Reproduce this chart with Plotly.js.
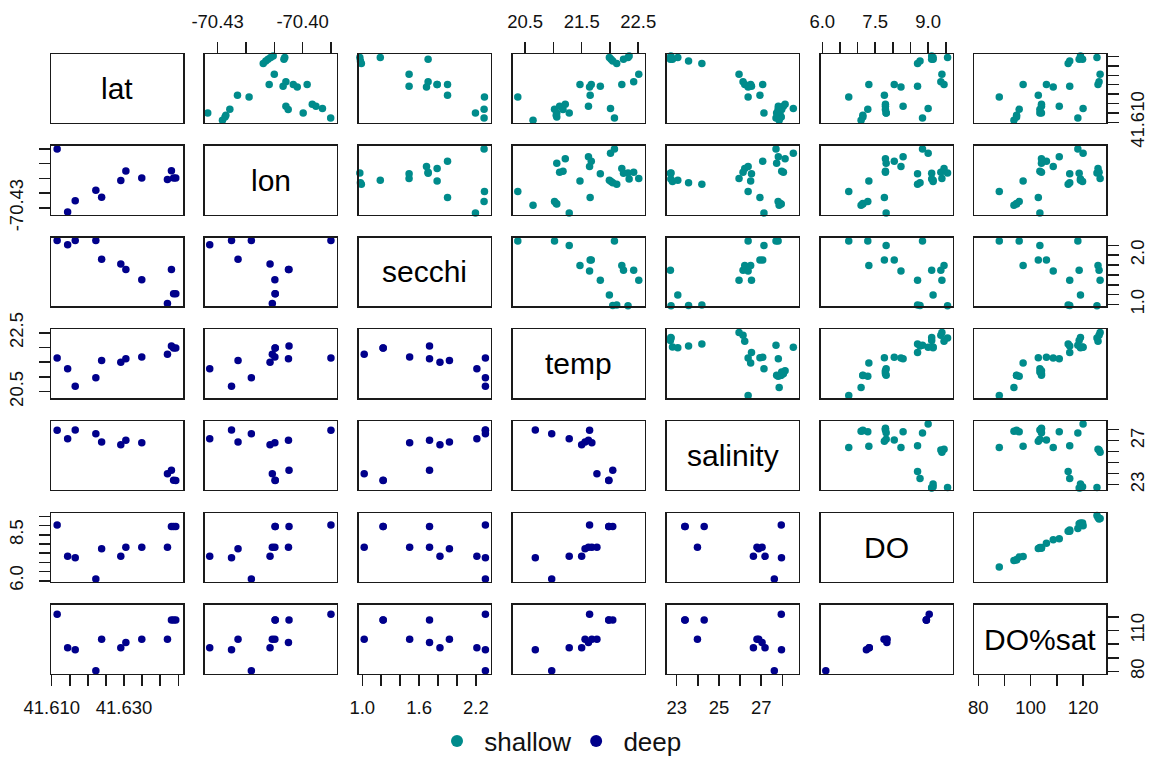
<!DOCTYPE html>
<html><head><meta charset="utf-8">
<script src="https://cdn.plot.ly/plotly-3.0.1.min.js"></script>
<style>html,body{margin:0;padding:0;background:#fff;overflow:hidden;}#chart{width:1154px;height:758px;}</style>
</head><body><div id="chart"></div>
<script>
const varNames = ['lat', 'lon', 'secchi', 'temp', 'salinity', 'DO', 'DO%sat'];

// shallow samples (upper panels)
const shallowLat = [41.6150, 41.6111, 41.6128, 41.6137, 41.6169, 41.6244, 41.6235, 41.6413, 41.6426, 41.6435, 41.6445, 41.6452, 41.6445, 41.6435, 41.6356, 41.6301, 41.6292, 41.6315, 41.6301, 41.6288, 41.6301, 41.6185, 41.6168, 41.6150, 41.6196, 41.6185, 41.6173, 41.6123];
const shallowLon = [-70.4335, -70.4283, -70.4274, -70.4271, -70.4257, -70.4230, -70.4189, -70.4139, -70.4130, -70.4122, -70.4113, -70.4104, -70.4063, -70.4066, -70.4100, -70.4118, -70.4069, -70.4059, -70.4033, -70.4019, -70.3984, -70.4059, -70.4051, -70.3998, -70.3966, -70.3953, -70.3930, -70.3901];
const shallowSecchi = [2.195, null, null, null, 2.286, 1.90, 2.29, 0.99, 0.98, null, 1.19, null, 0.974, 1.695, 1.494, 1.79, 1.494, 1.695, 1.79, 1.678, 1.90, null, null, null, null, null, null, 2.286];
const shallowTemp = [21.28, 20.64, 21.06, 21.05, 21.02, 21.65, 20.37, 22.12, 22.05, 22.02, 21.99, 22.34, 22.32, 22.24, 22.51, 21.47, 21.83, 22.42, 22.21, 21.64, 21.67, 21.11, 21.17, 21.06, 21.21, 21.62, 22.01, 22.08];
const shallowSalinity = [27.13, 27.85, 27.95, 27.90, 27.80, 26.94, 26.38, 24.19, 23.56, 22.80, 23.05, 22.72, 22.73, 22.70, 25.95, 26.50, 26.54, 26.14, 26.22, 26.38, 27.07, 28.05, 27.97, 27.73, 28.13, 27.81, 28.52, 27.70];
const shallowDO = [7.81, 7.10, 7.15, 7.15, 7.29, 7.76, 6.75, 8.70, 8.77, 9.14, 9.14, 9.10, 9.55, 9.10, 9.39, 7.32, 8.70, 9.36, 9.45, 8.23, 8.04, 7.79, 7.79, 7.81, 7.79, 8.29, 9.00, 8.84];
const shallowDOsat = [103.5, 93.6, 94.6, 94.6, 95.6, 102.9, 88.0, 114.3, 114.9, 119.8, 119.0, 119.0, 125.3, 118.5, 126.5, 97.1, 114.9, 126.1, 125.7, 108.6, 106.0, 104.1, 103.5, 104.1, 104.1, 110.9, 120.0, 118.0];

// deep samples (lower panels)
const deepLat = [41.6115, 41.6144, 41.6165, 41.6222, 41.6238, 41.6291, 41.6305, 41.6349, 41.6420, 41.6431, 41.6443, 41.6437];
const deepLon = [-70.3900, -70.4328, -70.4251, -70.4181, -70.4228, -70.4115, -70.4050, -70.4098, -70.4107, -70.4048, -70.4097, -70.4097];
const deepSecchi = [2.30, 2.21, 2.30, 2.30, 1.92, 1.82, 1.71, 1.50, 1.02, 1.71, 1.22, 1.22];
const deepTemp = [21.64, 21.28, 20.68, 20.97, 21.56, 21.50, 21.62, 21.68, 21.77, 22.05, 21.98, 21.98];
const deepSalinity = [27.95, 27.18, 27.96, 27.62, 26.88, 26.63, 27.04, 26.80, 23.98, 24.30, 23.38, 23.40];
const deepDO = [9.03, 7.33, 7.25, 6.10, 7.75, 7.33, 7.83, 7.83, 7.83, 8.95, 8.95, 8.95];
const deepDOsat = [121.9, 97.4, 96.0, 80.5, 103.7, 97.4, 101.3, 103.7, 103.7, 117.7, 117.7, 117.7];

// axis ranges and ticks per variable
const axisRanges = [[41.6098, 41.6463], [-70.4345, -70.3879], [0.963, 2.357], [20.28, 22.615], [22.52, 28.77], [5.95, 9.69], [78.5, 128.9]];
const tickValues = [
  [41.610, 41.615, 41.620, 41.625, 41.630, 41.635, 41.640, 41.645],
  [-70.43, -70.42, -70.41, -70.40, -70.39],
  [1.0, 1.2, 1.4, 1.6, 1.8, 2.0, 2.2],
  [20.5, 21.0, 21.5, 22.0, 22.5],
  [23, 24, 25, 26, 27, 28],
  [6.0, 6.5, 7.0, 7.5, 8.0, 8.5, 9.0, 9.5],
  [80, 90, 100, 110, 120]
];
const xTickText = [
  ['41.610', '', '', '', '41.630', '', '', ''],
  ['-70.43', '', '', '-70.40', ''],
  ['1.0', '', '', '1.6', '', '', '2.2'],
  ['20.5', '', '21.5', '', '22.5'],
  ['23', '', '25', '', '27', ''],
  ['6.0', '', '', '7.5', '', '', '9.0', ''],
  ['80', '', '100', '', '120']
];
const yTickText = [
  ['41.610', '', '', '', '', '', '', ''],
  ['-70.43', '', '', '', ''],
  ['1.0', '', '', '', '', '2.0', ''],
  ['20.5', '', '', '', '22.5'],
  ['23', '', '', '', '27', ''],
  ['6.0', '', '', '', '', '8.5', '', ''],
  ['80', '', '', '110', '']
];

const shallow = [shallowLat, shallowLon, shallowSecchi, shallowTemp, shallowSalinity, shallowDO, shallowDOsat];
const deep = [deepLat, deepLon, deepSecchi, deepTemp, deepSalinity, deepDO, deepDOsat];

const W = 1154, H = 758, N = 7;
const colLeft = j => 51 + 153.9 * j, panelW = 132;
const rowTop = i => 54 + 91.8 * i, panelH = 68.7;
const LINE = '#1a1a1a';
const FONT = 'Liberation Sans, Arial, sans-serif';
const TICK_SIZE = 18.5;
const tickFont = {family: FONT, size: TICK_SIZE, color: '#111'};
// approximate rendered width of a label, used to centre rotated y labels on their ticks
const charW = c => (c === '.' ? 0.278 : c === '-' ? 0.333 : 0.556) * TICK_SIZE;
const labelWidth = labels => {
  const ws = labels.filter(s => s).map(s => [...s].reduce((a, c) => a + charW(c), 0));
  return ws.reduce((a, b) => a + b, 0) / ws.length;
};

const layout = {
  width: W, height: H, margin: {l: 0, r: 0, t: 0, b: 0, autoexpand: false},
  paper_bgcolor: '#fff', plot_bgcolor: '#fff',
  showlegend: true,
  legend: {orientation: 'h', x: 437 / W, xanchor: 'left', y: 1 - 741 / H, yanchor: 'middle',
           font: {family: FONT, size: 26, color: '#111'},
           itemsizing: 'constant', bgcolor: 'rgba(0,0,0,0)'},
  annotations: []
};
const data = [];
let legendShallow = false, legendDeep = false;

for (let i = 0; i < N; i++) {
  for (let j = 0; j < N; j++) {
    const idx = i * N + j + 1;
    const xn = 'xaxis' + (idx === 1 ? '' : idx), yn = 'yaxis' + (idx === 1 ? '' : idx);
    const xr = 'x' + (idx === 1 ? '' : idx), yr = 'y' + (idx === 1 ? '' : idx);
    const x0 = colLeft(j), y0 = rowTop(i);
    const xa = {
      domain: [x0 / W, (x0 + panelW) / W], range: axisRanges[j], anchor: yr,
      showgrid: false, zeroline: false, showline: true, mirror: true, linecolor: LINE, linewidth: 1.5,
      ticks: '', showticklabels: false, fixedrange: true, automargin: false
    };
    const ya = {
      domain: [1 - (y0 + panelH) / H, 1 - y0 / H], range: axisRanges[i], anchor: xr,
      showgrid: false, zeroline: false, showline: true, mirror: true, linecolor: LINE, linewidth: 1.5,
      ticks: '', showticklabels: false, fixedrange: true, automargin: false
    };
    const xTop = (i === 0 && j % 2 === 1), xBottom = (i === N - 1 && j % 2 === 0);
    if (xTop || xBottom) {
      Object.assign(xa, {side: xTop ? 'top' : 'bottom', ticks: 'outside', ticklen: 11, tickwidth: 1.5, tickcolor: LINE,
        tickmode: 'array', tickvals: tickValues[j], ticktext: xTickText[j], showticklabels: true,
        tickfont: tickFont, ticklabelstandoff: xTop ? 6 : 6});
    }
    const yLeft = (j === 0 && i % 2 === 1), yRight = (j === N - 1 && i % 2 === 0);
    if (yLeft || yRight) {
      Object.assign(ya, {side: yLeft ? 'left' : 'right', ticks: 'outside', ticklen: 11, tickwidth: 1.5, tickcolor: LINE,
        tickmode: 'array', tickvals: tickValues[i], ticktext: yTickText[i], showticklabels: true,
        tickfont: tickFont, tickangle: -90, ticklabelstandoff: yLeft ? 8 : 3,
        ticklabelshift: -labelWidth(yTickText[i]) / 2});
    }
    layout[xn] = xa; layout[yn] = ya;

    if (i === j) {
      layout.annotations.push({
        x: (x0 + panelW / 2) / W, y: 1 - (y0 + panelH / 2) / H, xref: 'paper', yref: 'paper',
        text: varNames[i], showarrow: false, xanchor: 'center', yanchor: 'middle',
        font: {family: FONT, size: 30, color: '#000'}
      });
      data.push({type: 'scatter', mode: 'markers', x: [], y: [], xaxis: xr, yaxis: yr, showlegend: false, hoverinfo: 'skip'});
      continue;
    }
    const upper = i < j;
    const grp = upper ? shallow : deep;
    let show = false;
    if (upper && !legendShallow) { show = true; legendShallow = true; }
    if (!upper && !legendDeep) { show = true; legendDeep = true; }
    data.push({
      type: 'scatter', mode: 'markers', x: grp[j], y: grp[i], xaxis: xr, yaxis: yr,
      name: upper ? ' shallow' : ' deep', legendgroup: upper ? 'shallow' : 'deep', showlegend: show,
      legendrank: upper ? 1 : 2,
      marker: {color: upper ? '#008B8B' : '#00008B', size: 7.5, line: {width: 0}},
      hoverinfo: 'skip', cliponaxis: false
    });
  }
}
Plotly.newPlot('chart', data, layout, {displayModeBar: false, staticPlot: true});
</script>
</body></html>
